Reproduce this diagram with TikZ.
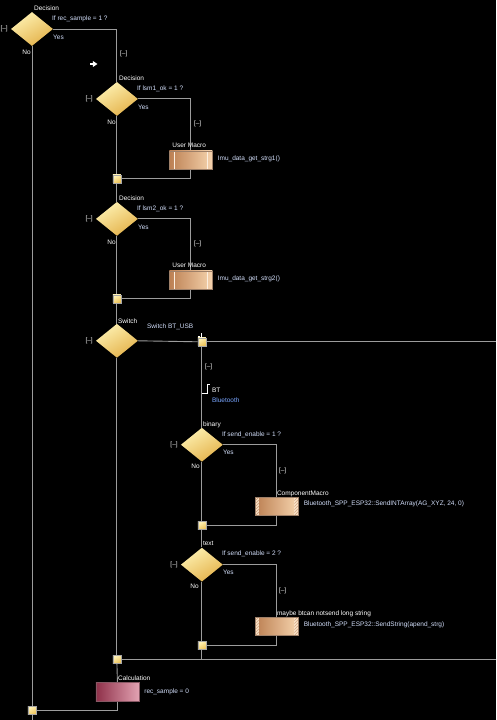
\documentclass[tikz,border=0pt]{standalone}
\usepackage{fontspec}
\setmainfont{Liberation Sans}
\usepackage{xcolor}
\usepackage{tikz}
\usetikzlibrary{arrows.meta,positioning,shapes.geometric,patterns}

\definecolor{wirecol}{HTML}{9C9C9C}
\definecolor{diamlight}{HTML}{FDF0B0}
\definecolor{diamdark}{HTML}{E4B24A}
\definecolor{jointlight}{HTML}{FFF3B8}
\definecolor{jointdark}{HTML}{EDC257}
\definecolor{macrolight}{HTML}{F6D4AE}
\definecolor{macrodark}{HTML}{BC8053}
\definecolor{calclight}{HTML}{E2A2B2}
\definecolor{calcdark}{HTML}{8E3049}
\definecolor{condtxt}{HTML}{D2DEFA}
\definecolor{btblue}{HTML}{79A6FF}

\pgfdeclarelayer{canvas}
\pgfdeclarelayer{wires}
\pgfsetlayers{canvas,wires,main}

\begin{document}
\begin{tikzpicture}[
  x=1pt, y=-1pt,
  font=\fontsize{6.5}{7}\selectfont,
  every node/.style={inner sep=0pt},
  wire/.style={draw=wirecol, line width=0.9pt},
  decision/.style={diamond, minimum width=42pt, minimum height=34pt,
                   top color=diamlight, bottom color=diamdark, shading angle=30},
  joint/.style={draw=gray!70, line width=0.4pt, minimum size=8pt,
                top color=jointlight, bottom color=jointdark, shading angle=30},
  macro/.style={draw=gray!50!macrodark, line width=0.5pt,
                minimum width=43pt, minimum height=18pt,
                left color=macrodark, right color=macrolight},
  usermacro/.style={macro, path picture={
      \draw[white!60!macrolight, line width=0.5pt]
        ([xshift=5pt]path picture bounding box.north west) -- ([xshift=5pt]path picture bounding box.south west)
        ([xshift=-5pt]path picture bounding box.north east) -- ([xshift=-5pt]path picture bounding box.south east);}},
  compmacro/.style={macro, path picture={
      \fill[macrolight!70!white] (path picture bounding box.north west) rectangle ([xshift=4pt]path picture bounding box.south west);
      \fill[macrolight!70!white] (path picture bounding box.north east) rectangle ([xshift=-4pt]path picture bounding box.south east);
      \fill[pattern=north east lines, pattern color=macrodark!80] (path picture bounding box.north west) rectangle ([xshift=4pt]path picture bounding box.south west);
      \fill[pattern=north east lines, pattern color=macrodark!80] (path picture bounding box.north east) rectangle ([xshift=-4pt]path picture bounding box.south east);}},
  calcbox/.style={draw=gray!50!calcdark, line width=0.5pt,
                  minimum width=43pt, minimum height=19pt,
                  left color=calcdark, right color=calclight},
  title/.style={text=white, text height=5pt, text depth=1.5pt},
  cond/.style={text=condtxt, text height=5pt, text depth=1.5pt},
  fold/.style={text=white!85!gray, text height=5pt, text depth=1.5pt}
]
  \begin{pgfonlayer}{canvas}
    \path[use as bounding box, fill=black] (0,0) rectangle (496,720);
  \end{pgfonlayer}

  % --- outer decision ------------------------------------------------
  \node[decision] (d0) at (32,29) {};
  \node[title, above right=17pt and 2pt of d0.center] {Decision};
  \node[cond,  above right=7pt and 20pt of d0.center] {If rec\_sample = 1 ?};
  \node[cond,  below right=5pt and 21pt of d0.center] {Yes};
  \node[title, below left=20pt and 1pt of d0.center] {No};
  \node[fold,  left=24pt of d0.center] {[--]};
  \node[fold, anchor=west] at (120,54) {[--]};
  \fill[white] (90,63) rectangle (94,65);
  \fill[white] (93,61) -- (97.5,64) -- (93,67) -- cycle;

  % --- first sensor check -------------------------------------------
  \node[decision] (d1) at (117,99) {};
  \node[title, above right=17pt and 2pt of d1.center] {Decision};
  \node[cond,  above right=7pt and 20pt of d1.center] {If lsm1\_ok = 1 ?};
  \node[cond,  below right=5pt and 21pt of d1.center] {Yes};
  \node[title, below left=20pt and 1pt of d1.center] {No};
  \node[fold,  left=24pt of d1.center] {[--]};
  \node[fold, anchor=west] at (194,124) {[--]};
  \node[usermacro] (m1) at (191,160) {};
  \node[title, above right=1pt and 3pt of m1.north west] {User Macro};
  \node[cond,  right=5pt of m1.east, yshift=1pt] {Imu\_data\_get\_strg1()};
  \node[joint] (j1) at (117,179) {};

  % --- second sensor check ------------------------------------------
  \node[decision] (d2) at (117,219) {};
  \node[title, above right=17pt and 2pt of d2.center] {Decision};
  \node[cond,  above right=7pt and 20pt of d2.center] {If lsm2\_ok = 1 ?};
  \node[cond,  below right=5pt and 21pt of d2.center] {Yes};
  \node[title, below left=20pt and 1pt of d2.center] {No};
  \node[fold,  left=24pt of d2.center] {[--]};
  \node[fold, anchor=west] at (194,244) {[--]};
  \node[usermacro] (m2) at (191,280) {};
  \node[title, above right=1pt and 3pt of m2.north west] {User Macro};
  \node[cond,  right=5pt of m2.east, yshift=1pt] {Imu\_data\_get\_strg2()};
  \node[joint] (j2) at (117,299) {};

  % --- switch ---------------------------------------------------------
  \node[decision] (sw) at (117,341) {};
  \node[title, above right=16pt and 1pt of sw.center] {Switch};
  \node[cond,  above right=11pt and 30pt of sw.center] {Switch BT\_USB};
  \node[fold,  left=24pt of sw.center] {[--]};
  \node[joint] (c1) at (202,342) {};
  \draw[white, line width=0.5pt] ([shift={(-4pt,1.5pt)}]c1.north) -- ([shift={(-2pt,1.5pt)}]c1.north)
                                 ([shift={(-1pt,0pt)}]c1.north) -- ([shift={(-1pt,5pt)}]c1.north);
  \coordinate (swend) at (496,342);
  \node[fold, anchor=west] at (205,367) {[--]};
  \node[title, anchor=west] (bt) at (212,391) {BT};
  \node[text=btblue, text height=5pt, text depth=1.5pt,
        below right=3.5pt and 0pt of bt.south west] {Bluetooth};
  \draw[white, line width=0.6pt] ([yshift=-3pt]c1.south |- bt.west) -- ++(5,0) -- ++(0,-9) -- ++(3,0);

  % --- case BT: binary ------------------------------------------------
  \node[decision] (b1) at (202,445) {};
  \node[title, above right=17pt and 1pt of b1.center] {binary};
  \node[cond,  above right=7pt and 20pt of b1.center] {If send\_enable = 1 ?};
  \node[cond,  below right=5pt and 21pt of b1.center] {Yes};
  \node[title, below left=19pt and 2pt of b1.center] {No};
  \node[fold,  left=24pt of b1.center] {[--]};
  \node[fold, anchor=west] at (279,471) {[--]};
  \node[compmacro] (cb1) at (277,507) {};
  \node[title, above right=0.5pt and 0pt of cb1.north] {ComponentMacro};
  \node[cond,  right=5pt of cb1.east, yshift=2.5pt] {Bluetooth\_SPP\_ESP32::SendINTArray(AG\_XYZ, 24, 0)};
  \node[joint] (bj1) at (202,526) {};

  % --- case BT: text --------------------------------------------------
  \node[decision] (t1) at (202,565) {};
  \node[title, above right=17pt and 1pt of t1.center] {text};
  \node[cond,  above right=7pt and 20pt of t1.center] {If send\_enable = 2 ?};
  \node[cond,  below right=5pt and 21pt of t1.center] {Yes};
  \node[title, below left=19pt and 3pt of t1.center] {No};
  \node[fold,  left=24pt of t1.center] {[--]};
  \node[fold, anchor=west] at (279,591) {[--]};
  \node[compmacro] (cb2) at (277,627) {};
  \node[title, above right=0.5pt and 0pt of cb2.north] {maybe btcan notsend long string};
  \node[cond,  right=5pt of cb2.east, yshift=2pt] {Bluetooth\_SPP\_ESP32::SendString(apend\_strg)};
  \node[joint] (bj2) at (202,646) {};
  \coordinate (cend) at (202,660);

  % --- after switch ---------------------------------------------------
  \node[joint] (sj) at (117,660) {};
  \coordinate (sjend) at (496,660);
  \node[calcbox] (calc) at (117.5,692.5) {};
  \node[title, above right=0.5pt and 0.5pt of calc.north] {Calculation};
  \node[cond,  right=5pt of calc.east] {rec\_sample = 0};
  \node[joint] (e0) at (32,711) {};
  \coordinate (bottom) at (32,720);

  % --- connectors (behind the blocks) ---------------------------------
  \begin{pgfonlayer}{wires}
  \draw[wire] (d0.south) -- (e0.north);
  \draw[wire] (e0.south) -- (bottom);
  \draw[wire] (d0.east) -| (d1.north);
  \draw[wire] (d1.south) -- (j1.north);
  \draw[wire] (d1.east) -| (m1.north);
  \draw[wire] (m1.south) |- (j1.east);
  \draw[wire] (j1.south) -- (d2.north);
  \draw[wire] (d2.south) -- (j2.north);
  \draw[wire] (d2.east) -| (m2.north);
  \draw[wire] (m2.south) |- (j2.east);
  \draw[wire] (j2.south) -- (sw.north);
  \draw[wire] (sw.south) -- (sj.north);
  \draw[wire] (sw.east) -- (c1.west);
  \draw[wire] (c1.east) -- (swend);
  \draw[wire] (c1.south) -- (b1.north);
  \draw[wire] (b1.south) -- (bj1.north);
  \draw[wire] (b1.east) -| (cb1.north);
  \draw[wire] (cb1.south) |- (bj1.east);
  \draw[wire] (bj1.south) -- (t1.north);
  \draw[wire] (t1.south) -- (bj2.north);
  \draw[wire] (t1.east) -| (cb2.north);
  \draw[wire] (cb2.south) |- (bj2.east);
  \draw[wire] (bj2.south) -- (cend);
  \draw[wire] (sj.east) -- (sjend);
  \draw[wire] (sj.south) -- (calc.north);
  \draw[wire] (calc.south) |- (e0.east);
  \end{pgfonlayer}
\end{tikzpicture}
\end{document}
